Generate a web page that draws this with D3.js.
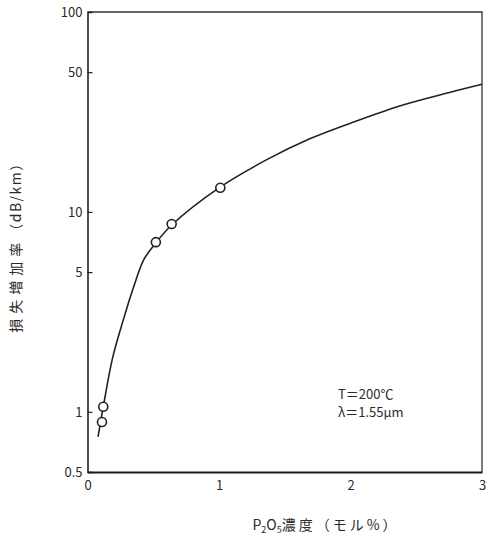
<!DOCTYPE html>
<html>
<head>
<meta charset="utf-8">
<script src="https://cdn.jsdelivr.net/npm/d3@7"></script>
<style>
  body { margin: 0; background: #fff; }
  text { font-family: "Noto Sans CJK JP", "DejaVu Sans", sans-serif; fill: #2a2a2a; }
</style>
</head>
<body>
<svg width="488" height="544"></svg>
<script>
// measured points
var pointX = [0.11, 0.12, 0.52, 0.64, 1.01];
var pointY = [0.89, 1.06, 7.06, 8.7, 13.2];

// fitted curve
var curveX = [0.08, 0.12, 0.19, 0.27, 0.35, 0.43, 0.52, 0.64, 1.0, 1.36, 1.69, 2.0, 2.38, 2.76, 3.0];
var curveY = [0.75, 1.06, 1.85, 2.85, 4.2, 5.8, 7.0, 8.6, 13.2, 18.2, 23.2, 27.8, 34.0, 39.7, 43.5];

var xTicks = [0, 1, 2, 3];
var yTicks = [0.5, 1, 5, 10, 50, 100];
var yTickLabels = ["0.5", "1", "5", "10", "50", "100"];

var svg = d3.select("svg");

var x = d3.scaleLinear().domain([0, 3]).range([87.5, 482]);
var y = d3.scaleLog().domain([0.5, 100]).range([472, 12]);

// frame: top and right
svg.append("path")
    .attr("d", "M" + x(0) + "," + y(100) + "H" + x(3) + "V" + y(0.5))
    .attr("fill", "none")
    .attr("stroke", "#333")
    .attr("stroke-width", 1.3);

// y axis, ticks inward
var yAxis = d3.axisRight(y)
    .tickValues(yTicks)
    .tickSize(5)
    .tickFormat("");
var gy = svg.append("g")
    .attr("transform", "translate(" + x(0) + ",0)")
    .call(yAxis);
gy.select(".domain").attr("stroke", "#222").attr("stroke-width", 1.6);
gy.selectAll(".tick line").attr("stroke", "#222").attr("stroke-width", 1.2);
gy.selectAll(".tick")
    .filter(function (d) { return d == 0.5 || d == 100; })
    .select("line").remove();

svg.append("g").selectAll("text")
    .data(yTicks)
    .enter()
    .append("text")
    .attr("x", x(0) - 5)
    .attr("y", function (d) { return y(d) + 5; })
    .attr("text-anchor", "end")
    .attr("font-size", 13)
    .text(function (d, i) { return yTickLabels[i]; });

// x axis
var xAxis = d3.axisBottom(x)
    .tickValues(xTicks)
    .tickSize(0)
    .tickPadding(9)
    .tickFormat(d3.format("d"));
var gx = svg.append("g")
    .attr("transform", "translate(0," + y(0.5) + ")")
    .call(xAxis);
gx.select(".domain").attr("stroke", "#1a1a1a").attr("stroke-width", 2.2);
gx.selectAll(".tick text")
    .attr("font-size", 13)
    .attr("font-family", "Noto Sans CJK JP, sans-serif")
    .attr("fill", "#2a2a2a");

// curve
var line = d3.line()
    .x(function (d) { return x(d[0]); })
    .y(function (d) { return y(d[1]); })
    .curve(d3.curveCatmullRom.alpha(0.5));

svg.append("path")
    .datum(d3.zip(curveX, curveY))
    .attr("d", line)
    .attr("fill", "none")
    .attr("stroke", "#222")
    .attr("stroke-width", 1.6);

// points
svg.append("g").selectAll("circle")
    .data(d3.zip(pointX, pointY))
    .enter()
    .append("circle")
    .attr("cx", function (d) { return x(d[0]); })
    .attr("cy", function (d) { return y(d[1]); })
    .attr("r", 4.5)
    .attr("fill", "#fff")
    .attr("stroke", "#222")
    .attr("stroke-width", 1.6);

// annotation
svg.append("text")
    .attr("x", 338).attr("y", 399)
    .attr("font-size", 13)
    .text("T＝200℃");
svg.append("text")
    .attr("x", 338).attr("y", 417)
    .attr("font-size", 13)
    .text("λ＝1.55μm");

// axis titles
var yt = svg.append("text")
    .attr("transform", "translate(21,244) rotate(-90)")
    .attr("text-anchor", "middle")
    .attr("font-size", 14);
yt.append("tspan").attr("letter-spacing", 5).text("損失増加率");
yt.append("tspan").attr("letter-spacing", 1.5).text("（dB/km）");

var xt = svg.append("text")
    .attr("x", 326).attr("y", 530)
    .attr("text-anchor", "middle")
    .attr("font-size", 14);
xt.append("tspan").text("P");
xt.append("tspan").attr("font-size", 9).attr("dy", 3).text("2");
xt.append("tspan").attr("dy", -3).text("O");
xt.append("tspan").attr("font-size", 9).attr("dy", 3).text("5");
xt.append("tspan").attr("dy", -3).attr("letter-spacing", 3).text("濃度（モル%）");
</script>
</body>
</html>
